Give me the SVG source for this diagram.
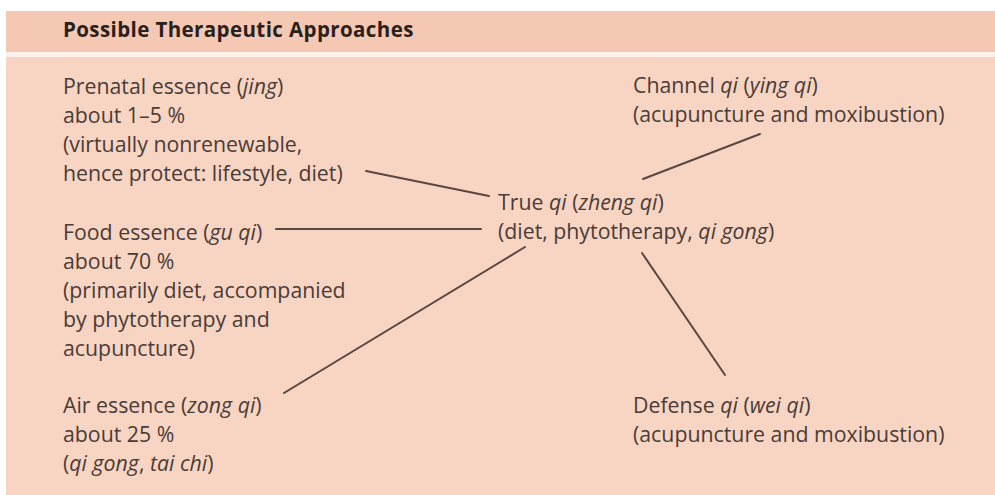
<svg xmlns="http://www.w3.org/2000/svg" width="995" height="495" viewBox="0 0 995 495">
<style>
.t{font-family:"Open Sans","Liberation Sans",sans-serif;font-size:21.3px;fill:#4a3c37}
.h{font-family:"Open Sans","Liberation Sans",sans-serif;font-size:20.5px;font-weight:bold;letter-spacing:0.4px;fill:#2a201c}
.i{font-style:italic}
.c{stroke:#5a4741;stroke-width:2;fill:none;stroke-linecap:round}
</style>
<rect x="0" y="0" width="995" height="495" fill="#ffffff"/>
<rect x="6" y="11" width="989" height="484" fill="#f8d4c3"/>
<rect x="6" y="11" width="989" height="41" fill="#f5c8b3"/>
<rect x="6" y="52" width="989" height="5" fill="#fdf2ea"/>
<text class="h" x="63" y="37">Possible Therapeutic Approaches</text>
<g id="connectors">
<line class="c" x1="366" y1="171" x2="489" y2="196"/>
<line class="c" x1="276" y1="229" x2="481" y2="229"/>
<line class="c" x1="284" y1="393" x2="525" y2="247"/>
<line class="c" x1="643" y1="179" x2="760" y2="134"/>
<line class="c" x1="642" y1="253" x2="725" y2="375"/>
</g>
<g id="prenatal">
<text class="t" x="63" y="94">Prenatal essence (<tspan class="i">jing</tspan>)</text>
<text class="t" x="63" y="123">about 1–5 %</text>
<text class="t" x="63" y="152">(virtually nonrenewable,</text>
<text class="t" x="63" y="181">hence protect: lifestyle, diet)</text>
</g>
<g id="food">
<text class="t" x="63" y="240">Food essence (<tspan class="i">gu qi</tspan>)</text>
<text class="t" x="63" y="269">about 70 %</text>
<text class="t" x="63" y="298">(primarily diet, accompanied</text>
<text class="t" x="63" y="327">by phytotherapy and</text>
<text class="t" x="63" y="356">acupuncture)</text>
</g>
<g id="air">
<text class="t" x="63" y="413">Air essence (<tspan class="i">zong qi</tspan>)</text>
<text class="t" x="63" y="442">about 25 %</text>
<text class="t" x="63" y="471">(<tspan class="i">qi gong</tspan>, <tspan class="i">tai chi</tspan>)</text>
</g>
<g id="true">
<text class="t" x="498" y="210">True <tspan class="i">qi</tspan> (<tspan class="i">zheng qi</tspan>)</text>
<text class="t" x="498" y="239">(diet, phytotherapy, <tspan class="i">qi gong</tspan>)</text>
</g>
<g id="channel">
<text class="t" x="633" y="93">Channel <tspan class="i">qi</tspan> (<tspan class="i">ying qi</tspan>)</text>
<text class="t" x="633" y="122">(acupuncture and moxibustion)</text>
</g>
<g id="defense">
<text class="t" x="633" y="413">Defense <tspan class="i">qi</tspan> (<tspan class="i">wei qi</tspan>)</text>
<text class="t" x="633" y="442">(acupuncture and moxibustion)</text>
</g>
</svg>
